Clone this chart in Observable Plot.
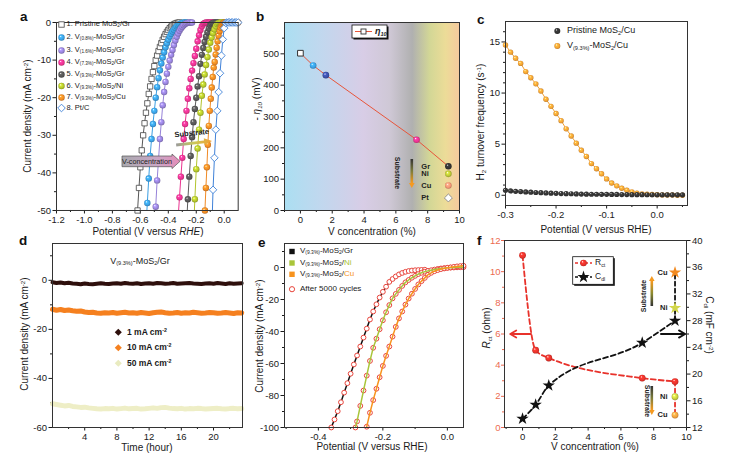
<!DOCTYPE html>
<html><head><meta charset="utf-8">
<script src="https://cdn.jsdelivr.net/npm/d3@7"></script>
<script src="https://cdn.jsdelivr.net/npm/@observablehq/plot@0.6"></script>
<style>
body{margin:0;background:#fff;}
#root{position:relative;width:742px;height:466px;overflow:hidden;font-family:"Liberation Sans",Arial,sans-serif;color:#1a1a1a;background:#fff;}
.t{position:absolute;white-space:nowrap;line-height:1;}
sub{font-size:62%;vertical-align:-0.3em;line-height:0;}
sup{font-size:62%;vertical-align:0.5em;line-height:0;}
</style></head><body><div id="root"></div>
<script>
// ================= DATA =================
// (a) polarization curves: [potential (V vs RHE), current density (mA cm-2)]
const aPristine = [[-0.63,-56],[-0.62,-50],[-0.61,-44],[-0.60,-38.5],[-0.59,-34],[-0.58,-30],[-0.57,-26.8],[-0.56,-24],[-0.55,-21.5],[-0.54,-19],[-0.53,-17],[-0.52,-15],[-0.51,-13.2],[-0.50,-11.6],[-0.49,-10],[-0.48,-8.8],[-0.47,-7.6],[-0.46,-6.5],[-0.45,-5.5],[-0.44,-4.6],[-0.43,-3.8],[-0.42,-3.1],[-0.41,-2.5],[-0.40,-2],[-0.39,-1.5],[-0.38,-1.1],[-0.37,-0.8],[-0.36,-0.5],[-0.35,-0.3],[-0.34,-0.15],[-0.33,-0.05],[-0.32,0]];
const aV08 = [[-0.56,-54],[-0.55,-48],[-0.54,-41.5],[-0.53,-35.5],[-0.52,-31],[-0.51,-27],[-0.50,-23.5],[-0.49,-20],[-0.48,-17.2],[-0.47,-14.8],[-0.46,-12.7],[-0.45,-10.9],[-0.44,-9.3],[-0.43,-7.9],[-0.42,-6.6],[-0.41,-5.5],[-0.40,-4.6],[-0.39,-3.7],[-0.38,-3.0],[-0.37,-2.4],[-0.36,-1.9],[-0.35,-1.4],[-0.34,-1.0],[-0.33,-0.7],[-0.32,-0.45],[-0.31,-0.25],[-0.30,-0.1],[-0.29,0],[-0.28,0],[-0.27,0]];
const aV16 = [[-0.50,-56],[-0.49,-49],[-0.48,-42],[-0.47,-36.5],[-0.46,-31],[-0.45,-26.5],[-0.44,-22],[-0.43,-18.5],[-0.42,-15.8],[-0.41,-13.6],[-0.40,-11.8],[-0.39,-10.1],[-0.38,-8.6],[-0.37,-7.3],[-0.36,-6.0],[-0.35,-4.8],[-0.34,-3.8],[-0.33,-2.9],[-0.32,-2.2],[-0.31,-1.6],[-0.30,-1.1],[-0.29,-0.7],[-0.28,-0.4],[-0.27,-0.2],[-0.26,-0.05],[-0.25,0],[-0.24,0],[-0.23,0]];
const aV73 = [[-0.33,-52],[-0.32,-46.5],[-0.31,-41],[-0.30,-36],[-0.29,-31],[-0.28,-27],[-0.27,-23.5],[-0.26,-20.3],[-0.25,-17.5],[-0.24,-15],[-0.23,-12.8],[-0.22,-10.8],[-0.21,-8.9],[-0.20,-7],[-0.19,-5],[-0.18,-3.4],[-0.17,-2.0],[-0.16,-1.0],[-0.15,-0.4],[-0.14,-0.1],[-0.13,0],[-0.12,0],[-0.11,0],[-0.10,0],[-0.09,0],[-0.08,0]];
const aV93Gr = [[-0.27,-54],[-0.26,-47],[-0.25,-41],[-0.24,-35.5],[-0.23,-30.5],[-0.22,-26.5],[-0.21,-23],[-0.20,-20],[-0.19,-17],[-0.18,-14.3],[-0.17,-11],[-0.16,-8.6],[-0.15,-6.8],[-0.14,-5.2],[-0.13,-3.8],[-0.12,-2.6],[-0.11,-1.6],[-0.10,-0.8],[-0.09,-0.3],[-0.08,-0.1],[-0.07,0],[-0.06,0],[-0.05,0],[-0.04,0]];
const aV93Ni = [[-0.22,-56],[-0.21,-47],[-0.20,-39],[-0.19,-33.5],[-0.18,-28.5],[-0.17,-24],[-0.16,-19.5],[-0.15,-16.5],[-0.14,-13.8],[-0.13,-11.3],[-0.12,-9.2],[-0.11,-7.2],[-0.10,-5.4],[-0.09,-4],[-0.08,-2.8],[-0.07,-1.8],[-0.06,-1.0],[-0.05,-0.4],[-0.04,-0.1],[-0.03,0],[-0.02,0],[-0.01,0],[0.00,0],[0.01,0],[0.02,0]];
const aV93Cu = [[-0.145,-56],[-0.138,-50],[-0.131,-44],[-0.124,-38.5],[-0.117,-32.5],[-0.110,-27.5],[-0.103,-23.5],[-0.096,-20.3],[-0.089,-17.3],[-0.082,-14.5],[-0.075,-12],[-0.068,-10.5],[-0.061,-8.5],[-0.054,-6.7],[-0.047,-5],[-0.040,-3.5],[-0.033,-2.3],[-0.026,-1.4],[-0.019,-0.8],[-0.012,-0.4],[-0.005,-0.1],[0.002,0],[0.009,0],[0.016,0],[0.023,0],[0.030,0],[0.037,0],[0.044,0],[0.051,0],[0.058,0],[0.065,0],[0.072,0],[0.079,0],[0.086,0],[0.093,0],[0.1,0]];
const aPtC = [[-0.09,-57],[-0.08,-44.5],[-0.07,-36],[-0.06,-28.5],[-0.05,-23.5],[-0.04,-18.5],[-0.03,-13.5],[-0.02,-8.8],[-0.01,-4.5],[0.00,-1.5],[0.01,-0.1],[0.02,0],[0.03,0],[0.04,0],[0.05,0],[0.06,0],[0.07,0],[0.08,0],[0.09,0],[0.1,0]];
const aLegend = ["1. Pristine MoS<sub>2</sub>/Gr","2. V<sub>(0.8%)</sub>-MoS<sub>2</sub>/Gr","3. V<sub>(1.6%)</sub>-MoS<sub>2</sub>/Gr","4. V<sub>(7.3%)</sub>-MoS<sub>2</sub>/Gr","5. V<sub>(9.3%)</sub>-MoS<sub>2</sub>/Gr","6. V<sub>(9.3%)</sub>-MoS<sub>2</sub>/Ni","7. V<sub>(9.3%)</sub>-MoS<sub>2</sub>/Cu","8. Pt/C"];
const aXTicks = [-1.2,-1.0,-0.8,-0.6,-0.4,-0.2,0.0];
const aYTicks = [0,-10,-20,-30,-40,-50];

// (b) overpotential at 10 mA cm-2 vs V concentration
const bConc = [0, 0.8, 1.6, 7.3, 9.3];
const bEta = [502, 463, 432, 226, 141];
const bSubName = ["Gr","Ni","Cu","Pt"];
const bSubConc = [9.3, 9.3, 9.3, 9.3];
const bSubEta = [141, 117, 80, 40];
const bXTicks = [0,2,4,6,8,10];
const bYTicks = [0,100,200,300,400,500];

// (c) H2 turnover frequency
const cPot = [-0.30,-0.29,-0.28,-0.27,-0.26,-0.25,-0.24,-0.23,-0.22,-0.21,-0.20,-0.19,-0.18,-0.17,-0.16,-0.15,-0.14,-0.13,-0.12,-0.11,-0.10,-0.09,-0.08,-0.07,-0.06,-0.05,-0.04,-0.03,-0.02,-0.01,0.00,0.01,0.02,0.03,0.04,0.05];
const cPristine = [0.49,0.43,0.39,0.36,0.33,0.30,0.27,0.25,0.23,0.21,0.19,0.17,0.16,0.15,0.13,0.12,0.11,0.10,0.10,0.09,0.09,0.08,0.08,0.07,0.07,0.06,0.06,0.06,0.05,0.05,0.05,0.05,0.04,0.04,0.04,0.04];
const cV93 = [14.7,14.0,13.4,12.9,12.1,11.5,10.9,10.2,9.4,8.7,8.0,7.3,6.5,5.8,5.1,4.4,3.8,3.1,2.6,2.1,1.6,1.2,0.92,0.69,0.49,0.33,0.2,0.13,0.1,0.07,0.05,0.03,0.02,0.02,0.01,0.01];
const cXTicks = [-0.3,-0.2,-0.1,0.0];
const cYTicks = [0,5,10,15];

// (d) stability, V(9.3%)-MoS2/Gr
const dTime = [0,0.5,1,1.5,2,2.5,3,3.5,4,4.5,5,5.5,6,6.5,7,7.5,8,8.5,9,9.5,10,10.5,11,11.5,12,12.5,13,13.5,14,14.5,15,15.5,16,16.5,17,17.5,18,18.5,19,19.5,20,20.5,21,21.5,22,22.5,23,23.5];
const d1mA = [-0.8,-1.1,-0.9,-1.2,-1.0,-1.3,-1.4,-1.6,-1.3,-1.5,-1.6,-1.4,-1.2,-1.4,-1.5,-1.3,-1.2,-1.4,-1.1,-1.3,-1.4,-1.2,-1.5,-1.3,-1.2,-1.4,-1.1,-1.2,-1.4,-1.3,-1.1,-1.4,-1.3,-1.2,-1.1,-1.3,-1.4,-1.5,-1.3,-1.2,-1.4,-1.1,-1.3,-1.5,-1.2,-1.4,-1.3,-1.2];
const d10mA = [-11.8,-12.2,-11.9,-12.3,-12.1,-12.4,-12.6,-12.5,-12.9,-13.1,-13.0,-13.3,-13.4,-13.2,-13.3,-13.1,-13.4,-13.2,-13.0,-13.3,-13.2,-13.4,-13.1,-13.3,-13.5,-13.2,-13.0,-12.9,-13.2,-13.4,-13.3,-13.1,-13.4,-13.2,-13.3,-13.0,-13.2,-13.4,-13.3,-13.1,-13.2,-13.4,-13.3,-13.1,-13.3,-13.5,-13.2,-13.3];
const d50mA = [-50.3,-50.6,-50.9,-51.2,-51.0,-51.4,-51.6,-51.8,-51.7,-52.0,-52.2,-52.4,-52.5,-52.3,-52.4,-52.2,-52.5,-52.3,-52.1,-52.4,-52.3,-52.2,-52.5,-52.4,-52.2,-52.0,-52.2,-51.9,-51.8,-52.1,-52.3,-52.4,-52.2,-52.5,-52.3,-52.4,-52.2,-52.3,-52.5,-52.4,-52.3,-52.2,-52.4,-52.5,-52.3,-52.2,-52.4,-52.3];
const dXTicks = [4,8,12,16,20];
const dYTicks = [0,-20,-40,-60];

// (e) durability: [potential, current density]
const eGr = [[-0.36,-100],[-0.35,-95],[-0.34,-89.8],[-0.33,-84.2],[-0.32,-78.2],[-0.31,-72.3],[-0.30,-66.4],[-0.29,-60.6],[-0.28,-55],[-0.27,-49.4],[-0.26,-43.8],[-0.25,-38.2],[-0.24,-32.5],[-0.23,-27.5],[-0.22,-23],[-0.21,-18.8],[-0.20,-15.2],[-0.19,-12],[-0.18,-9],[-0.17,-7.2],[-0.16,-5.6],[-0.15,-4.3],[-0.14,-3.4],[-0.13,-2.7],[-0.12,-2.2],[-0.11,-1.9],[-0.10,-1.7],[-0.09,-1.6],[-0.08,-1.5],[-0.07,-1.4]];
const eNi = [[-0.285,-100],[-0.28,-96.2],[-0.27,-86.5],[-0.26,-76.9],[-0.25,-67.6],[-0.24,-58.4],[-0.23,-50.2],[-0.22,-44.5],[-0.21,-38.6],[-0.20,-33],[-0.19,-28],[-0.18,-23.5],[-0.17,-19.3],[-0.16,-16.5],[-0.15,-14],[-0.14,-11.5],[-0.13,-9.3],[-0.12,-7.8],[-0.11,-6.4],[-0.10,-5.2],[-0.09,-4.1],[-0.08,-3.3],[-0.07,-2.6],[-0.06,-2.1],[-0.05,-1.7],[-0.04,-1.3],[-0.03,-0.9],[-0.02,-0.6],[-0.01,-0.4],[0.00,-0.2],[0.01,-0.1],[0.02,0],[0.03,0.1],[0.04,0.15],[0.05,0.2]];
const eCu = [[-0.25,-99.5],[-0.24,-90.8],[-0.23,-82.9],[-0.22,-75.8],[-0.21,-68.6],[-0.20,-61.5],[-0.19,-55.2],[-0.18,-49.4],[-0.17,-43.2],[-0.16,-37.1],[-0.15,-31.8],[-0.14,-27.5],[-0.13,-23.2],[-0.12,-19.4],[-0.11,-16.4],[-0.10,-13.4],[-0.09,-10.6],[-0.08,-8.5],[-0.07,-6.5],[-0.06,-4.5],[-0.05,-3.3],[-0.04,-2.3],[-0.03,-1.6],[-0.02,-1.0],[-0.01,-0.6],[0.00,-0.2],[0.01,0.1],[0.02,0.4],[0.03,0.7],[0.04,0.9],[0.05,1.1]];
const eXTicks = [-0.4,-0.2,0.0];
const eYTicks = [0,-20,-40,-60,-80,-100];

// (f) Rct and Cdl vs V concentration
const fConc = [0, 0.8, 1.6, 7.3, 9.3];
const fRct = [11.05, 4.96, 4.46, 3.17, 2.95];
const fCdl = [13.3, 15.4, 18.3, 24.7, 28.0];
const fSubName = ["Ni","Cu"];
const fSubRct = [1.98, 0.8];
const fSubCdl = [29.9, 35.2];
const fXTicks = [0,2,4,6,8,10];
const fRctTicks = [0,2,4,6,8,10,12];
const fCdlTicks = [12,16,20,24,28,32,36,40];
const fArrows = [{x1: 0.52, x2: -0.75, y: 6.0}, {x1: 8.44, x2: 9.92, y: 6.0}];

// ================= RENDER =================
const FONT = '"Liberation Sans", Arial, sans-serif';
const svgNS = "http://www.w3.org/2000/svg";
const root = document.getElementById("root");

const sphereColors = {blue:"#3a9ee2", purple:"#9682d8", pink:"#ea3390", gray:"#555555", yg:"#b2c42c", orange:"#f08a24",
  dblue:"#3d4fa8", black:"#333333", ni:"#b9c435", salmon:"#f29474", red:"#e8322b", corange:"#f2a033", fni:"#c8cf40", fcu:"#f0a040"};
function radial(id, c) {
  return `<radialGradient id="sph-${id}" cx="0.5" cy="0.5" r="0.55" fx="0.34" fy="0.3">
  <stop offset="0" stop-color="#ffffff"/><stop offset="0.28" stop-color="${d3.color(c).brighter(0.5)}"/>
  <stop offset="0.7" stop-color="${c}"/><stop offset="1" stop-color="${d3.color(c).darker(0.9)}"/></radialGradient>`;
}
(function addDefs() {
  const s = document.createElementNS(svgNS, "svg");
  s.setAttribute("width", 0); s.setAttribute("height", 0);
  s.style.position = "absolute";
  let g = Object.entries(sphereColors).map(([k, c]) => radial(k, c)).join("");
  g += `<linearGradient id="bgB" x1="0" y1="0" x2="1" y2="0">
    <stop offset="0" stop-color="#abdff2"/><stop offset="0.22" stop-color="#c2d7ee"/><stop offset="0.45" stop-color="#d8cde6"/>
    <stop offset="0.6" stop-color="#cfc8d6"/><stop offset="0.73" stop-color="#b0b0b0"/><stop offset="0.83" stop-color="#d3d796"/>
    <stop offset="0.92" stop-color="#ecdc98"/><stop offset="1" stop-color="#f6c99e"/></linearGradient>
  <linearGradient id="subDown" x1="0" y1="0" x2="0" y2="1"><stop offset="0" stop-color="#333"/><stop offset="0.5" stop-color="#7d7d3a"/><stop offset="1" stop-color="#f59a20"/></linearGradient>
  <linearGradient id="subUp" x1="0" y1="1" x2="0" y2="0"><stop offset="0" stop-color="#333"/><stop offset="0.5" stop-color="#8a8a30"/><stop offset="1" stop-color="#f59a20"/></linearGradient>
  <linearGradient id="vconc" x1="0" y1="0" x2="1" y2="0"><stop offset="0" stop-color="#a9a9ae"/><stop offset="0.6" stop-color="#c9a6c6"/><stop offset="1" stop-color="#e58db8"/></linearGradient>
  <linearGradient id="subA" x1="0" y1="0" x2="1" y2="0"><stop offset="0" stop-color="#9a9a9a"/><stop offset="0.5" stop-color="#c9c85a"/><stop offset="1" stop-color="#f3a030"/></linearGradient>`;
  s.innerHTML = `<defs>${g}</defs>`;
  root.appendChild(s);
})();

function panel(fr, xd, yd, marks, m = {l: 36, r: 8, t: 8, b: 22}) {
  const svg = Plot.plot({
    width: fr.x1 - fr.x0 + m.l + m.r,
    height: fr.y1 - fr.y0 + m.t + m.b,
    marginLeft: m.l, marginRight: m.r, marginTop: m.t, marginBottom: m.b,
    x: {domain: xd}, y: {domain: yd},
    style: {fontFamily: FONT, fontSize: "9.5px", background: "transparent", color: "#1a1a1a", overflow: "visible"},
    marks
  });
  svg.style.position = "absolute";
  svg.style.left = (fr.x0 - m.l) + "px";
  svg.style.top = (fr.y0 - m.t) + "px";
  svg.style.maxWidth = "none";
  root.appendChild(svg);
  return svg;
}
const fmt = (n) => (d) => d.toFixed(n);
const axX = (ticks, f, o = {}) => Plot.axisX({ticks, tickFormat: f, tickSize: 3.5, tickPadding: 2, label: null, ...o});
const axY = (ticks, f, o = {}) => Plot.axisY({ticks, tickFormat: f, tickSize: 3.5, tickPadding: 2, label: null, ...o});
const mnX = (ticks, o = {}) => Plot.axisX({ticks, tickFormat: () => "", tickSize: 2, label: null, ...o});
const mnY = (ticks, o = {}) => Plot.axisY({ticks, tickFormat: () => "", tickSize: 2, label: null, ...o});
const P = {x: (d) => d[0], y: (d) => d[1]};
const sphereDots = (data, id, r, extra = {}) => Plot.dot(data, {...P, r, fill: `url(#sph-${id})`, ...extra});

// ---- panel a ----
const aSeries = [
  {data: aPristine, color: "#555555", kind: "square"},
  {data: aV08, color: sphereColors.blue, id: "blue"},
  {data: aV16, color: sphereColors.purple, id: "purple"},
  {data: aV73, color: sphereColors.pink, id: "pink"},
  {data: aV93Gr, color: "#5a5a5a", id: "gray"},
  {data: aV93Ni, color: sphereColors.yg, id: "yg"},
  {data: aV93Cu, color: sphereColors.orange, id: "orange"},
  {data: aPtC, color: "#3f82d8", kind: "diamond"}
];
const inA = (d) => d[1] >= -51;
panel({x0: 56, x1: 237.7, y0: 22, y1: 210}, [-1.2, 0.1], [-50, 0], [
  axX(aXTicks, fmt(1)), mnX([-1.1,-0.9,-0.7,-0.5,-0.3,-0.1]),
  axY(aYTicks, fmt(0)), mnY([-5,-15,-25,-35,-45]),
  ...aSeries.flatMap((s) => [
    Plot.line(s.data, {...P, stroke: s.color, strokeWidth: 1, clip: true}),
    s.kind === "square" ? Plot.dot(s.data, {...P, filter: inA, symbol: "square", r: 3, fill: "white", stroke: "#444", strokeWidth: 0.8})
    : s.kind === "diamond" ? Plot.dot(s.data, {...P, filter: inA, symbol: "diamond2", r: 3.4, fill: "white", stroke: s.color, strokeWidth: 0.9})
    : sphereDots(s.data, s.id, 3.2, {filter: inA})
  ]),
  Plot.frame({stroke: "#333"})
]);

// ---- panel b ----
const bMain = bConc.map((v, i) => ({v, eta: bEta[i]}));
const bSub = bSubName.map((n, i) => ({n, v: bSubConc[i], eta: bSubEta[i]}));
const bFill = ["", "blue", "dblue", "pink", "black"];
const bSubFill = ["", "ni", "salmon", ""];
panel({x0: 284, x1: 459, y0: 22, y1: 210}, [-1, 10], [0, 600], [
  Plot.frame({fill: "url(#bgB)"}),
  axX(bXTicks, fmt(0)), mnX([-1,1,3,5,7,9]),
  axY(bYTicks, fmt(0)), mnY([50,150,250,350,450,550]),
  Plot.line(bMain, {x: "v", y: "eta", stroke: "#e8553a", strokeWidth: 1}),
  Plot.dot(bMain.slice(0, 1), {x: "v", y: "eta", symbol: "square", r: 3.2, fill: "white", stroke: "#333", strokeWidth: 1}),
  ...bMain.slice(1).map((d, i) => Plot.dot([d], {x: "v", y: "eta", r: 3.3, fill: `url(#sph-${bFill[i + 1]})`})),
  ...bSub.slice(1, 3).map((d, i) => Plot.dot([d], {x: "v", y: "eta", r: 3.3, fill: `url(#sph-${bSubFill[i + 1]})`})),
  Plot.dot(bSub.slice(3), {x: "v", y: "eta", symbol: "diamond2", r: 3.6, fill: "white", stroke: "#888", strokeWidth: 0.9}),
  Plot.text(bSub, {x: "v", y: "eta", text: "n", dx: -27, textAnchor: "start", fontWeight: "bold", fontSize: 7.5, fill: "#222"}),
  Plot.frame({stroke: "#333"})
]);

// ---- panel c ----
const cData = cPot.map((p, i) => ({p, a: cPristine[i], b: cV93[i]}));
panel({x0: 505, x1: 687, y0: 21, y1: 205}, [-0.3, 0.06], [-1, 17], [
  axX(cXTicks, fmt(1)), mnX([-0.25,-0.15,-0.05,0.05]),
  axY(cYTicks, fmt(0)), mnY([1,2,3,4,6,7,8,9,11,12,13,14,16]),
  Plot.line(cData, {x: "p", y: "b", stroke: "#f2a033", strokeWidth: 1}),
  Plot.dot(cData, {x: "p", y: "b", r: 2.7, fill: "url(#sph-corange)"}),
  Plot.dot(cData, {x: "p", y: "a", r: 2.6, fill: "url(#sph-black)"}),
  Plot.frame({stroke: "#333"})
]);

// ---- panel d ----
const dData = dTime.map((t, i) => ({t, a: d1mA[i], b: d10mA[i], c: d50mA[i]}));
panel({x0: 52, x1: 242, y0: 243, y1: 427}, [0, 23.6], [-60, 15], [
  axX(dXTicks, fmt(0)), mnX([2,6,10,14,18,22]),
  axY(dYTicks, fmt(0)), mnY([-50,-30,-10,10]),
  Plot.line(dData, {x: "t", y: "c", stroke: "#eeeec6", strokeWidth: 5}),
  Plot.line(dData, {x: "t", y: "b", stroke: "#f5801f", strokeWidth: 5}),
  Plot.line(dData, {x: "t", y: "a", stroke: "#2e0f0c", strokeWidth: 4}),
  Plot.frame({stroke: "#333"})
]);

// ---- panel e ----
const ring = (data) => Plot.dot(data, {...P, r: 2.4, fill: "white", stroke: "#e8453c", strokeWidth: 1});
panel({x0: 284, x1: 463, y0: 243, y1: 427}, [-0.505, 0.05], [-100, 15], [
  axX(eXTicks, fmt(1)), mnX([-0.5,-0.3,-0.1]),
  axY(eYTicks, fmt(0)), mnY([-90,-70,-50,-30,-10,10]),
  Plot.line(eGr, {...P, stroke: "#111", strokeWidth: 1.5, clip: true}),
  ring(eGr), ring(eNi), ring(eCu),
  Plot.line(eNi, {...P, stroke: "#a9c53a", strokeWidth: 1.5, clip: true}),
  Plot.line(eCu, {...P, stroke: "#f7931e", strokeWidth: 1.5, clip: true}),
  Plot.frame({stroke: "#333"})
]);

// ---- panel f ----
const toR = (c) => (c - 12) * 12 / 28;
const fromR = (r) => r * 28 / 12 + 12;
const fMain = fConc.map((v, i) => ({v, r: fRct[i], c: toR(fCdl[i])}));
const fSub = fSubName.map((n, i) => ({n, v: fConc[4], r: fSubRct[i], c: toR(fSubCdl[i])}));
const fRctSub = [fMain[4], ...fSub];
const RED = "#e8322b";
panel({x0: 504, x1: 686, y0: 240, y1: 427}, [-1.1, 10], [0, 12], [
  axX(fXTicks, fmt(0)), mnX([-1,1,3,5,7,9]),
  axY(fRctTicks, fmt(0), {color: "#ec6a50", tickSize: 3, tickPadding: 1}), mnY([1,3,5,7,9,11], {color: "#ec6a50"}),
  axY(fCdlTicks.map(toR), (d) => String(Math.round(fromR(d))), {anchor: "right"}),
  mnY([14,18,22,26,30,34,38].map(toR), {anchor: "right"}),
  Plot.line(fMain, {x: "v", y: "r", stroke: RED, strokeWidth: 1.8, strokeDasharray: "5,3", curve: "monotone-x"}),
  Plot.line(fRctSub, {x: "v", y: "r", stroke: RED, strokeWidth: 1.8, strokeDasharray: "4,3"}),
  Plot.line(fMain, {x: "v", y: "c", stroke: "#111", strokeWidth: 1.8, strokeDasharray: "5,3", curve: "monotone-x"}),
  Plot.line([fMain[4], ...fSub], {x: "v", y: "c", stroke: "#111", strokeWidth: 1.8, strokeDasharray: "4,3"}),
  Plot.arrow(fArrows.slice(0, 1), {x1: "x1", x2: "x2", y1: "y", y2: "y", stroke: RED, strokeWidth: 1.8, headLength: 6}),
  Plot.arrow(fArrows.slice(1), {x1: "x1", x2: "x2", y1: "y", y2: "y", stroke: "#111", strokeWidth: 1.8, headLength: 6}),
  Plot.dot(fMain, {x: "v", y: "r", r: 3.4, fill: "url(#sph-red)"}),
  Plot.dot(fSub.slice(0, 1), {x: "v", y: "r", r: 3.4, fill: "url(#sph-fni)"}),
  Plot.dot(fSub.slice(1), {x: "v", y: "r", r: 3.4, fill: "url(#sph-fcu)"}),
  Plot.dot(fMain, {x: "v", y: "c", symbol: "star", r: 3.9, fill: "#111"}),
  Plot.dot(fSub.slice(0, 1), {x: "v", y: "c", symbol: "star", r: 3.9, fill: "#d2d64a"}),
  Plot.dot(fSub.slice(1), {x: "v", y: "c", symbol: "star", r: 3.9, fill: "#f28a20"}),
  Plot.text(fSub, {x: "v", y: "c", text: "n", dx: -7.5, textAnchor: "end", fontWeight: "bold", fontSize: 7.5, fill: "#222"}),
  Plot.text(fSub, {x: "v", y: "r", text: "n", dx: -7.5, textAnchor: "end", fontWeight: "bold", fontSize: 7.5, fill: "#222"}),
  Plot.frame({stroke: "#333"})
], {l: 36, r: 30, t: 8, b: 22});

// ---- overlay: legend markers and annotation graphics ----
const star = d3.symbol(d3.symbolStar, 46)();
const aRows = [24.5, 37.5, 50.5, 62.5, 74.5, 86, 97.5, 108];
const aIds = ["", "blue", "purple", "pink", "gray", "yg", "orange", ""];
let ovs = `
<rect x="58.8" y="${aRows[0]-2.7}" width="5.4" height="5.4" fill="white" stroke="#444" stroke-width="0.8"/>
${aIds.map((id, i) => id ? `<circle cx="61.5" cy="${aRows[i]}" r="3.2" fill="url(#sph-${id})"/>` : "").join("")}
<polygon points="61.5,${aRows[7]-3.8} 65.3,${aRows[7]} 61.5,${aRows[7]+3.8} 57.7,${aRows[7]}" fill="white" stroke="#3f82d8" stroke-width="0.9"/>
<polygon points="122,156 172,156 172,154 180,161.3 172,168.6 172,166.7 122,166.7" fill="url(#vconc)" stroke="#555" stroke-width="0.7"/>
<text x="147" y="164" font-size="7.2" text-anchor="middle" fill="#222" font-family='${FONT}'>V-concentration</text>
<polygon points="176,143.5 204,140.6 203.8,138.2 212,141 204.4,145 204.2,143.3 176.3,146.4" fill="url(#subA)"/>
<text x="192" y="135.5" font-size="7.5" font-weight="bold" text-anchor="middle" fill="#222" font-family='${FONT}' transform="rotate(-6 192 135.5)">Substrate</text>
<rect x="353.5" y="26.5" width="35" height="13" fill="#111"/>
<rect x="352" y="25" width="35" height="13" fill="white" stroke="#111" stroke-width="0.8"/>
<line x1="355" x2="372" y1="31.5" y2="31.5" stroke="#e8553a" stroke-width="1"/>
<rect x="361" y="29" width="5" height="5" fill="white" stroke="#333" stroke-width="0.9"/>
<text transform="translate(396.5,173) rotate(90)" font-size="7" font-weight="bold" text-anchor="middle" dominant-baseline="middle" fill="#222" font-family='${FONT}'>Substrate</text>
<rect x="410.5" y="159" width="2.6" height="24" fill="url(#subDown)"/>
<polygon points="409,183 414.6,183 411.8,188" fill="#f59a20"/>
<circle cx="557.3" cy="31" r="3" fill="url(#sph-black)"/>
<circle cx="557.3" cy="46" r="3" fill="url(#sph-corange)"/>
<rect x="115.8" y="329.8" width="5" height="5" fill="#2e0f0c" transform="rotate(45 118.3 332.3)"/>
<rect x="115.8" y="345.2" width="5" height="5" fill="#f5801f" transform="rotate(45 118.3 347.7)"/>
<rect x="115.8" y="360.8" width="5" height="5" fill="#e9ebc0" transform="rotate(45 118.3 363.3)"/>
<rect x="289.3" y="248.8" width="5.4" height="5.4" fill="#111"/>
<rect x="289.3" y="260.3" width="5.4" height="5.4" fill="#a9c53a"/>
<rect x="289.3" y="271.6" width="5.4" height="5.4" fill="#f7931e"/>
<circle cx="292" cy="289.2" r="2.6" fill="white" stroke="#e8453c" stroke-width="1"/>
<rect x="574.2" y="258.2" width="40.6" height="27.6" fill="#111"/>
<rect x="572.7" y="256.7" width="40.6" height="27.6" fill="white" stroke="#111" stroke-width="0.8"/>
<line x1="575" x2="592" y1="263" y2="263" stroke="${RED}" stroke-width="1.6" stroke-dasharray="3,2"/>
<circle cx="583.5" cy="263" r="3.3" fill="url(#sph-red)"/>
<line x1="575" x2="592" y1="277" y2="277" stroke="#111" stroke-width="1.6" stroke-dasharray="3,2"/>
<path d="${star}" transform="translate(583.5,277)" fill="#111"/>
<text transform="translate(644,296) rotate(-90)" font-size="7" font-weight="bold" text-anchor="middle" dominant-baseline="middle" fill="#222" font-family='${FONT}'>Substrate</text>
<rect x="650.5" y="281" width="2.6" height="25" fill="url(#subUp)"/>
<polygon points="649,281 654.6,281 651.8,276" fill="#f59a20"/>
<text transform="translate(646.5,401) rotate(90)" font-size="7" font-weight="bold" text-anchor="middle" dominant-baseline="middle" fill="#222" font-family='${FONT}'>Substrate</text>
<rect x="650.5" y="386" width="2.6" height="24" fill="url(#subDown)"/>
<polygon points="649,410 654.6,410 651.8,415" fill="#f59a20"/>`;
const ov = document.createElementNS(svgNS, "svg");
ov.setAttribute("width", 742); ov.setAttribute("height", 466);
ov.style.cssText = "position:absolute;left:0;top:0;pointer-events:none;";
ov.innerHTML = ovs;
root.appendChild(ov);

// ---- HTML text: panel letters, axis titles, legends ----
function txt(html, x, y, o = {}) {
  const d = document.createElement("div");
  d.className = "t";
  d.innerHTML = html;
  const fs = o.fs || 10;
  d.style.fontSize = fs + "px";
  if (o.bold) d.style.fontWeight = "bold";
  if (o.color) d.style.color = o.color;
  d.style.left = x + "px";
  if (o.center || o.rot) {
    d.style.top = y + "px";
    d.style.transform = "translate(-50%,-50%)" + (o.rot ? ` rotate(${o.rot}deg)` : "");
  } else {
    d.style.top = (y - 0.55 * fs) + "px";
  }
  root.appendChild(d);
}
[["a", 20, 17.5], ["b", 256, 17.5], ["c", 477, 20], ["d", 19, 241.5], ["e", 258, 243], ["f", 477, 241.5]]
  .forEach(([l, x, y]) => txt(l, x, y, {fs: 13.5, bold: true, color: "#111"}));
const cd = "Current density (mA cm<sup>-2</sup>)";
txt(cd, 28, 116, {rot: -90});
txt("Potential (V versus <i>RHE</i>)", 148, 232, {center: true});
txt("- <i>η</i><sub><i>10</i></sub> (mV)", 257, 99, {rot: -90});
txt("V concentration (%)", 372, 232, {center: true});
txt("H<sub>2</sub> turnover frequency (s<sup>-1</sup>)", 481, 122, {rot: -90});
txt("Potential (V versus RHE)", 596, 230, {center: true});
txt(cd, 25, 334, {rot: -90});
txt("Time (hour)", 147, 448, {center: true});
txt(cd, 260, 336, {rot: -90});
txt("Potential (V versus RHE)", 372, 447, {center: true});
txt("<i>R</i><sub>ct</sub> (ohm)", 487, 328, {rot: -90});
txt("C<sub>dl</sub> (mF cm<sup>-2</sup>)", 709, 325, {rot: 90});
txt("V concentration (%)", 595, 447, {center: true});
// legends
aLegend.forEach((h, i) => txt(h, 66.5, aRows[i], {fs: 7.5, color: "#222"}));
txt("<i><b>η</b></i><sub><b><i>10</i></b></sub>", 375, 31.5, {fs: 9});
txt("Pristine MoS<sub>2</sub>/Cu", 567, 31, {fs: 9});
txt("V<sub>(9.3%)</sub>-MoS<sub>2</sub>/Cu", 567, 46, {fs: 9});
txt("V<sub>(9.3%)</sub>-MoS<sub>2</sub>/Gr", 140, 261, {fs: 9, center: true});
txt("1 mA cm<sup>-2</sup>", 127, 332.3, {fs: 8.5, bold: true});
txt("10 mA cm<sup>-2</sup>", 127, 347.7, {fs: 8.5, bold: true});
txt("50 mA cm<sup>-2</sup>", 127, 363.3, {fs: 8.5, bold: true});
txt("V<sub>(9.3%)</sub>-MoS<sub>2</sub>/Gr", 300, 251.5, {fs: 8});
txt("V<sub>(9.3%)</sub>-MoS<sub>2</sub>/<span style='color:#a9c53a'>Ni</span>", 300, 263, {fs: 8});
txt("V<sub>(9.3%)</sub>-MoS<sub>2</sub>/<span style='color:#f7931e'>Cu</span>", 300, 274.3, {fs: 8});
txt("After 5000 cycles", 300, 289.2, {fs: 8});
txt("R<sub>ct</sub>", 595, 263, {fs: 8.5});
txt("C<sub>dl</sub>", 595, 277, {fs: 8.5});
</script></body></html>
